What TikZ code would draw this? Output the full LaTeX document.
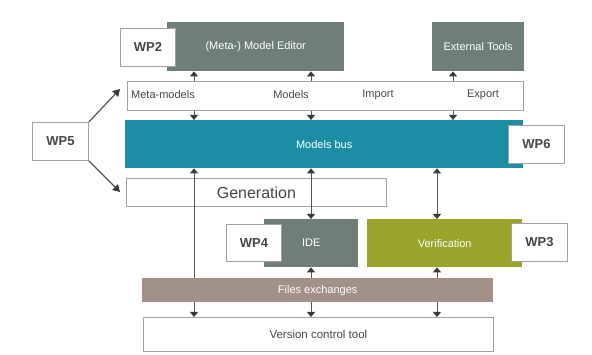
\documentclass[tikz,border=0pt]{standalone}
\usepackage{fontspec}
\setmainfont{Liberation Sans}
\usetikzlibrary{arrows.meta}
\definecolor{gg}{HTML}{6F7F78}
\definecolor{busc}{HTML}{1B8EA6}
\definecolor{olive}{HTML}{9AA52B}
\definecolor{filesc}{HTML}{A39088}
\definecolor{bordc}{HTML}{A8A0A0}
\definecolor{txt}{HTML}{4A4646}
\definecolor{linec}{HTML}{5E5252}
\definecolor{tipc}{HTML}{403838}
\begin{document}
\begin{tikzpicture}[x=1pt,y=-1pt,
  wbox/.style={draw=bordc, line width=0.8pt, fill=white, anchor=north west, inner sep=0pt},
  cbox/.style={anchor=north west, inner sep=0pt},
  wp/.style={wbox, font=\fontsize{13}{15}\selectfont\bfseries, text=txt},
  lbl/.style={font=\fontsize{11}{13}\selectfont, text=txt, inner sep=0pt},
  wl/.style={font=\fontsize{11}{13}\selectfont, text=white},
  conn/.style={draw=linec, line width=0.8pt},
  tip/.style={-{Triangle[width=8pt,length=5pt,color=tipc]}},
  dtip/.style={{Triangle[width=8pt,length=5pt,color=tipc]}-{Triangle[width=8pt,length=5pt,color=tipc]}},
  bigtip/.style={line width=1.2pt, -{Triangle[width=8pt,length=7pt,color=tipc]}}
]
\useasboundingbox (0,0) rectangle (592,355);
% top boxes
\node[cbox, wl, fill=gg, minimum width=177pt, minimum height=49pt] (editor) at (167,22) {(Meta-) Model Editor};
\node[wp, minimum width=55pt, minimum height=38pt] (wp2) at (120,28) {WP2};
\node[cbox, wl, fill=gg, minimum width=92pt, minimum height=49pt] (ext) at (432,22) {External Tools};
% bar
\node[wbox, minimum width=396pt, minimum height=29pt] (bar) at (127,81) {};
\node[lbl] (metaL) at (163,95) {Meta-models};
\node[lbl] (modelsL) at (291,95) {Models};
\node[lbl] (importL) at (378,95) {Import};
\node[lbl] (exportL) at (483,95) {Export};
% bus
\node[cbox, wl, fill=busc, minimum width=398pt, minimum height=48pt] (bus) at (125,120) {Models bus};
\node[wp, minimum width=56pt, minimum height=38pt] (wp6) at (508,125) {WP6};
\node[wp, minimum width=56pt, minimum height=38pt] (wp5) at (32,122) {WP5};
% generation
\node[wbox, minimum width=260pt, minimum height=28pt, font=\fontsize{16}{18}\selectfont, text=txt] (gen) at (126,178) {Generation};
% IDE / verification
\node[cbox, wl, fill=gg, minimum width=94pt, minimum height=48pt] (ide) at (264,219) {IDE};
\node[wp, minimum width=55pt, minimum height=37pt] (wp4) at (226,224) {WP4};
\node[cbox, wl, fill=olive, minimum width=155pt, minimum height=48pt] (verif) at (367,219) {Verification};
\node[wp, minimum width=56pt, minimum height=38pt] (wp3) at (511,223) {WP3};
% files, version control
\node[cbox, wl, fill=filesc, minimum width=351pt, minimum height=24pt] (files) at (142,278) {Files exchanges};
\node[wbox, minimum width=350pt, minimum height=34pt, font=\fontsize{11.5}{13}\selectfont, text=txt] (vc) at (143,317) {Version control tool};
% connector x positions
\coordinate (xa) at (194,0);
\coordinate (xb) at (311,0);
\coordinate (xc) at (453,0);
\coordinate (xd) at (437,0);
\coordinate (p1) at (120,89);
\coordinate (p2) at (120,192);
% top connectors
\draw[conn,tip] (bar.north -| xa) -- (editor.south -| xa);
\draw[conn,tip] (bar.north -| xb) -- (editor.south -| xb);
\draw[conn,tip] (bar.north -| xc) -- (ext.south -| xc);
\draw[conn,tip] (bar.south -| xa) -- (bus.north -| xa);
\draw[conn,tip] (bar.south -| xb) -- (bus.north -| xb);
\draw[conn,tip] (bar.south -| xc) -- (bus.north -| xc);
% WP5 arrows
\draw[conn,bigtip] (wp5.north east) -- (p1);
\draw[conn,bigtip] (wp5.south east) -- (p2);
% vertical connectors
\draw[conn,tip] (files.north -| xa) -- (bus.south -| xa);
\draw[conn,tip] (files.south -| xa) -- (vc.north -| xa);
\draw[conn,dtip] (bus.south -| xb) -- (ide.north -| xb);
\draw[conn,tip] (files.north -| xb) -- (ide.south -| xb);
\draw[conn,tip] (files.south -| xb) -- (vc.north -| xb);
\draw[conn,dtip] (bus.south -| xd) -- (verif.north -| xd);
\draw[conn,tip] (files.north -| xd) -- (verif.south -| xd);
\draw[conn,tip] (files.south -| xd) -- (vc.north -| xd);
\end{tikzpicture}
\end{document}
